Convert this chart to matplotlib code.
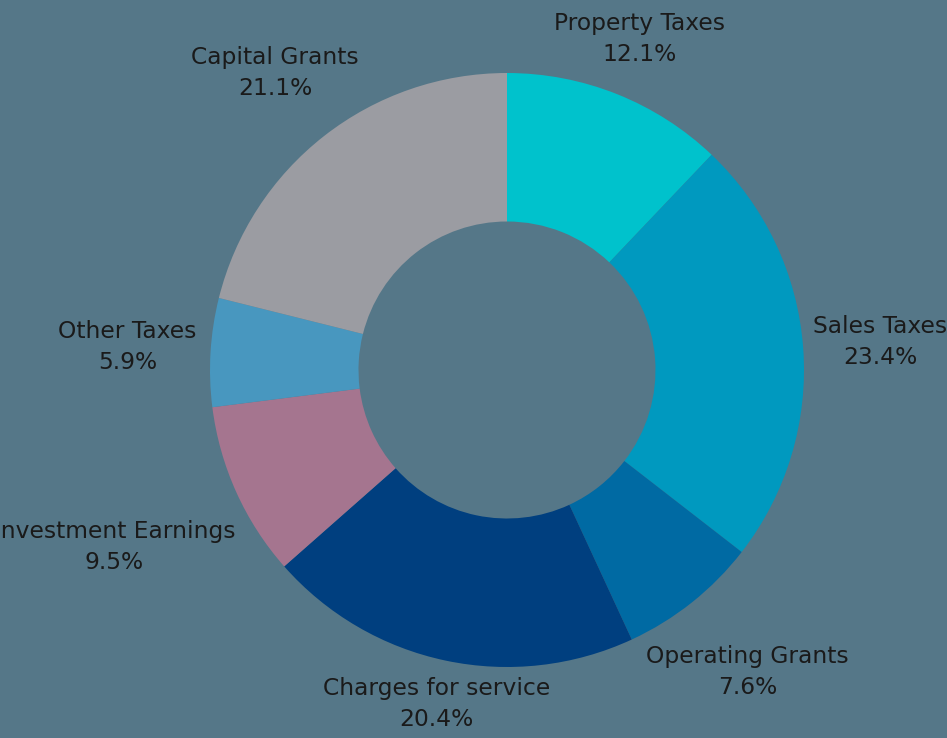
import numpy as np
import matplotlib.pyplot as plt

categories = ['Property Taxes', 'Sales Taxes', 'Operating Grants', 'Charges for service',
              'Investment Earnings', 'Other Taxes', 'Capital Grants']
shares = [12.1, 23.4, 7.6, 20.4, 9.5, 5.9, 21.1]
colors = ['#00c2cc', '#0099bf', '#006aa3', '#003f7f', '#a5758f', '#4897bf', '#9b9ca2']

bg = '#557788'
label_dist = [1.20, 1.26, 1.30, 1.15, 1.45, 1.28, 1.27]   # label radius / outer radius

fig = plt.figure(figsize=(9.47, 7.38), dpi=100)
fig.patch.set_facecolor(bg)
ax = fig.add_axes([0, 0, 1, 1])
ax.set_facecolor(bg)

cx, cy, r = 507, 368, 297
wedges, _ = ax.pie(shares, colors=colors, startangle=90, counterclock=False,
                   center=(cx, cy), radius=r, frame=True,
                   wedgeprops=dict(width=r * 0.5, linewidth=0))

for w, name, val, d in zip(wedges, categories, shares, label_dist):
    ang = np.deg2rad((w.theta1 + w.theta2) / 2)
    x = cx + r * d * np.cos(ang)
    y = cy + r * d * np.sin(ang)
    ax.text(x, y, f'{name}\n{val}%', ha='center', va='center', fontsize=16.8,
            color='#1a1a1a', linespacing=1.45)

ax.set_xlim(0, 947)
ax.set_ylim(0, 738)
ax.set_aspect('equal')
ax.axis('off')

fig.savefig('out.png', dpi=100, facecolor=bg)
